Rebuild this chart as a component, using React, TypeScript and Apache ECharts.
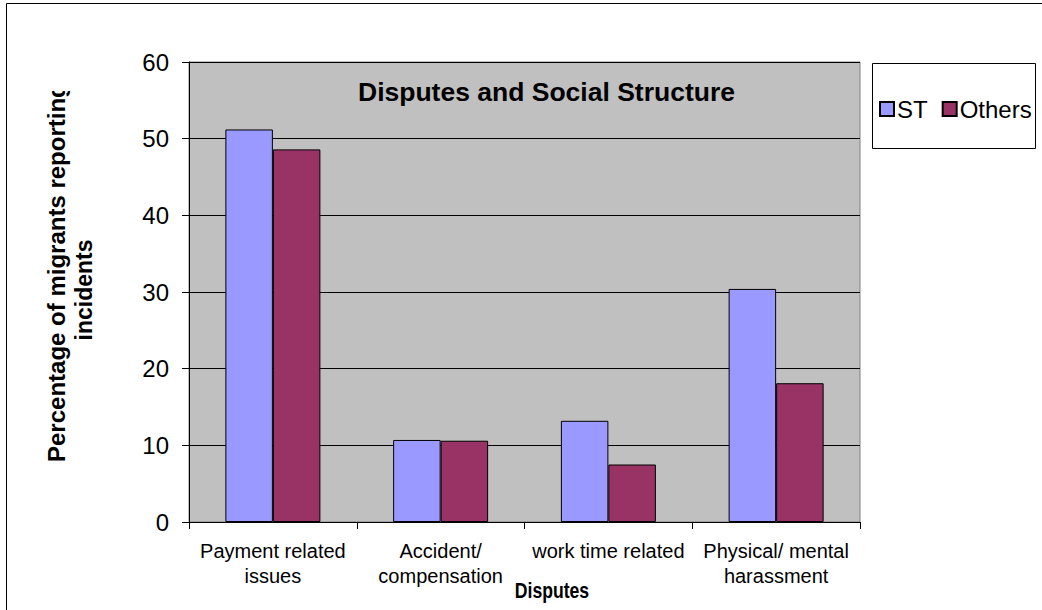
import React, { useEffect, useRef } from "react";
import * as echarts from "echarts";

// Dispute categories and the share of migrants reporting each one
const categories = [
  "Payment related\nissues",
  "Accident/\ncompensation",
  "work time related",
  "Physical/ mental\nharassment",
];
const stValues = [51.2, 10.7, 13.2, 30.4];
const othersValues = [48.6, 10.6, 7.5, 18.1];
const seriesNames = ["ST", "Others"];
const yTicks = { min: 0, max: 60, interval: 10 };

const FONT = "'Liberation Sans', Arial, Helvetica, sans-serif";

export default function App() {
  const ref = useRef<HTMLDivElement>(null);

  useEffect(() => {
    if (!ref.current) return;
    const chart = echarts.init(ref.current, undefined, { renderer: "svg" });
    chart.setOption({
      animation: false,
      backgroundColor: "#ffffff",
      textStyle: { fontFamily: FONT },
      grid: {
        left: 189,
        right: 182,
        top: 62,
        bottom: 88,
        show: true,
        backgroundColor: "#C0C0C0",
        borderColor: "#808080",
        borderWidth: 1,
        containLabel: false,
      },
      legend: {
        data: seriesNames,
        left: 879,
        top: 97,
        padding: 0,
        itemWidth: 14,
        itemHeight: 14,
        itemGap: 14,
        icon: "rect",
        textStyle: { fontSize: 24, color: "#000", fontFamily: FONT, padding: [0, 0, 0, -2] },
      },
      xAxis: {
        type: "category",
        data: categories,
        axisLine: { show: true, lineStyle: { color: "#000", width: 1 } },
        axisTick: { show: true, length: 7, lineStyle: { color: "#000" } },
        axisLabel: {
          interval: 0,
          fontSize: 20,
          lineHeight: 25,
          color: "#000",
          margin: 16,
          fontFamily: FONT,
        },
      },
      yAxis: {
        type: "value",
        min: yTicks.min,
        max: yTicks.max,
        interval: yTicks.interval,
        axisLine: { show: true, lineStyle: { color: "#000", width: 1 } },
        axisTick: { show: true, length: 7, lineStyle: { color: "#000" } },
        axisLabel: { fontSize: 24, color: "#000", margin: 20, fontFamily: FONT },
        splitLine: { show: true, lineStyle: { color: "#000", width: 1 } },
      },
      series: [
        {
          name: seriesNames[0],
          type: "bar",
          data: stValues,
          barWidth: 47.5,
          barGap: "0%",
          itemStyle: { color: "#9999FF", borderColor: "#000", borderWidth: 1 },
        },
        {
          name: seriesNames[1],
          type: "bar",
          data: othersValues,
          barWidth: 47.5,
          barGap: "0%",
          itemStyle: { color: "#993366", borderColor: "#000", borderWidth: 1 },
        },
      ],
      graphic: [
        // outer frame (top and left edges visible)
        {
          type: "line",
          shape: { x1: 6.5, y1: 3.5, x2: 1042, y2: 3.5 },
          style: { stroke: "#000", lineWidth: 1 },
        },
        {
          type: "line",
          shape: { x1: 6.5, y1: 3.5, x2: 6.5, y2: 610 },
          style: { stroke: "#000", lineWidth: 1 },
        },
        // legend frame
        {
          type: "rect",
          z: -1,
          shape: { x: 872.5, y: 63.5, width: 163, height: 85 },
          style: { fill: "#fff", stroke: "#000", lineWidth: 1 },
        },
        // chart title inside plot area
        {
          type: "text",
          left: 358,
          top: 78,
          z: 10,
          style: {
            text: "Disputes and Social Structure",
            font: `bold 26.5px ${FONT}`,
            fill: "#000",
          },
        },
        // x-axis title (condensed)
        {
          type: "text",
          x: 552,
          y: 590,
          scaleX: 0.8,
          style: {
            text: "Disputes",
            font: `bold 22px ${FONT}`,
            fill: "#000",
            align: "center",
            verticalAlign: "middle",
          },
        },
        // y-axis title, first line (clipped at the top)
        {
          type: "text",
          x: 56,
          y: 462,
          rotation: Math.PI / 2,
          style: {
            text: "Percentage of migrants reporting",
            font: `bold 24px ${FONT}`,
            fill: "#000",
            align: "left",
            verticalAlign: "middle",
          },
        },
        {
          type: "rect",
          z: 20,
          shape: { x: 30, y: 10, width: 45, height: 81 },
          style: { fill: "#fff" },
        },
        // y-axis title, second line
        {
          type: "text",
          x: 84,
          y: 290,
          rotation: Math.PI / 2,
          style: {
            text: "incidents",
            font: `bold 23px ${FONT}`,
            fill: "#000",
            align: "center",
            verticalAlign: "middle",
          },
        },
      ],
    });
    return () => chart.dispose();
  }, []);

  return (
    <div
      ref={ref}
      style={{ position: "absolute", left: 0, top: 0, width: 1042, height: 610 }}
    />
  );
}
